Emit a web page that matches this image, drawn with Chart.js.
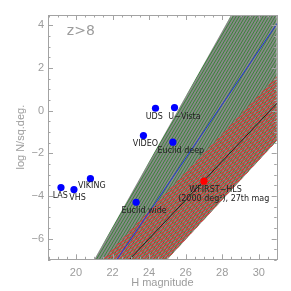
<!DOCTYPE html>
<html>
<head>
<meta charset="utf-8">
<script src="https://cdn.jsdelivr.net/npm/chart.js@4"></script>
<style>
  html, body { margin: 0; padding: 0; background: #fff; }
</style>
</head>
<body>
<canvas id="chart" width="291" height="291"></canvas>
<script>
// survey depths (blue points)
const surveyNames = ['LAS', 'VHS', 'VIKING', 'Euclid wide', 'VIDEO', 'UDS', 'U\u2212Vista', 'Euclid deep'];
const surveyMag = [19.18, 19.89, 20.79, 23.29, 23.69, 24.35, 25.39, 25.30];
const surveyLogN = [-3.61, -3.70, -3.19, -4.30, -1.17, 0.11, 0.14, -1.48];

// WFIRST (red point)
const wfirstLines = ['WFIRST\u2212HLS', '(2000 deg\u00b2), 27th mag'];
const wfirstMag = [27.0];
const wfirstLogN = [-3.31];

// model bands, outline
const greenBandMag = [20.66, 28.83, 31.5, 31.5, 24.43];
const greenBandLogN = [-7.5, 5.0, 5.0, -0.95, -7.5];
const redBandMag = [20.88, 31.5, 31.5, 24.43];
const redBandLogN = [-7.5, 2.07, -0.95, -7.5];
const blueLineMag = [21.83, 31.5];
const blueLineLogN = [-7.5, 4.71];
const blackLineMag = [22.35, 31.5];
const blackLineLogN = [-7.5, 0.80];

const xTickLabels = [20, 22, 24, 26, 28, 30];
const yTickLabels = [-6, -4, -2, 0, 2, 4];

const axisGray = '#a3a3a3';
const textGray = '#9c9c9c';

function pts(xs, ys) {
	return xs.map((x, i) => ({ x: x, y: ys[i] }));
}

const canvas = document.getElementById('chart');
const mainCtx = canvas.getContext('2d');

function hatch(w, h, bg, fg, lw) {
	const tile = document.createElement('canvas');
	tile.width = w;
	tile.height = h;
	const g = tile.getContext('2d');
	if (bg) {
		g.fillStyle = bg;
		g.fillRect(0, 0, w, h);
	}
	g.strokeStyle = fg;
	g.lineWidth = lw;
	g.beginPath();
	for (let k = -1; k <= 1; k++) {
		g.moveTo(k * w, h);
		g.lineTo(k * w + w, 0);
	}
	g.stroke();
	return mainCtx.createPattern(tile, 'repeat');
}

const greenHatch = hatch(3, 5, '#888888', '#378637', 1);
const redHatch = hatch(5, 3, null, '#d63a3a', 1.3);

function fmt(v) {
	return v < 0 ? '\u2212' + Math.abs(v) : String(v);
}

// offsets of the point labels (pixels from the point)
const surveyLabelDx = [-0.7, 3.5, 1.4, 8, 2, -1.3, 10, 8];
const surveyLabelDy = [8.3, 8.6, 7.6, 8.7, 8.5, 8.7, 9, 8.5];

const decorations = {
	id: 'decorations',
	afterDraw(chart) {
		const ctx = chart.ctx;
		const a = chart.chartArea;
		const xs = chart.scales.x;
		const ys = chart.scales.y;
		ctx.save();
		ctx.strokeStyle = axisGray;
		ctx.lineWidth = 1;
		ctx.strokeRect(Math.round(a.left) + 0.5, Math.round(a.top) + 0.5,
			Math.round(a.right - a.left), Math.round(a.bottom - a.top));
		ctx.beginPath();
		// inward ticks, minor every 0.5
		for (let v = 18.5; v <= 31.001; v += 0.5) {
			const px = Math.round(xs.getPixelForValue(v)) + 0.5;
			const len = Math.abs(v % 2) < 1e-6 ? 5 : 2.5;
			ctx.moveTo(px, a.bottom);
			ctx.lineTo(px, a.bottom - len);
			ctx.moveTo(px, a.top);
			ctx.lineTo(px, a.top + len);
		}
		for (let v = -7; v <= 4.501; v += 0.5) {
			const py = Math.round(ys.getPixelForValue(v)) + 0.5;
			const len = Math.abs(v % 2) < 1e-6 ? 5 : 2.5;
			ctx.moveTo(a.left, py);
			ctx.lineTo(a.left + len, py);
			ctx.moveTo(a.right, py);
			ctx.lineTo(a.right - len, py);
		}
		ctx.stroke();

		// z>8 tag
		ctx.fillStyle = textGray;
		ctx.font = '14px "DejaVu Sans"';
		ctx.textAlign = 'left';
		ctx.textBaseline = 'middle';
		ctx.fillText('z>8', xs.getPixelForValue(19.5), ys.getPixelForValue(3.69));

		// point labels
		ctx.fillStyle = '#222';
		ctx.font = '8px "DejaVu Sans"';
		ctx.textAlign = 'center';
		surveyNames.forEach((name, i) => {
			const px = xs.getPixelForValue(surveyMag[i]);
			const py = ys.getPixelForValue(surveyLogN[i]);
			ctx.fillText(name, px + surveyLabelDx[i], py + surveyLabelDy[i]);
		});
		const wx = xs.getPixelForValue(wfirstMag[0]);
		const wy = ys.getPixelForValue(wfirstLogN[0]);
		ctx.fillText(wfirstLines[0], wx + 11.6, wy + 8.4);
		ctx.fillText(wfirstLines[1], wx + 19.8, wy + 17.4);
		ctx.restore();
	}
};

new Chart(canvas, {
	type: 'line',
	data: {
		datasets: [
			{
				data: pts(surveyMag, surveyLogN),
				showLine: false,
				pointRadius: 3.6,
				pointBorderWidth: 0,
				pointBackgroundColor: '#0000ff',
				order: 0
			},
			{
				data: pts(wfirstMag, wfirstLogN),
				showLine: false,
				pointRadius: 3.6,
				pointBorderWidth: 0,
				pointBackgroundColor: '#ff0000',
				order: 0
			},
			{
				data: pts(blueLineMag, blueLineLogN),
				borderColor: '#2233dd',
				borderWidth: 1,
				pointRadius: 0,
				fill: false,
				order: 1
			},
			{
				data: pts(blackLineMag, blackLineLogN),
				borderColor: '#222222',
				borderWidth: 1,
				pointRadius: 0,
				fill: false,
				order: 1
			},
			{
				data: pts(redBandMag, redBandLogN),
				borderWidth: 0,
				borderColor: 'rgba(0,0,0,0)',
				backgroundColor: redHatch,
				pointRadius: 0,
				fill: 'shape',
				order: 2
			},
			{
				data: pts(greenBandMag, greenBandLogN),
				borderWidth: 0,
				borderColor: 'rgba(0,0,0,0)',
				backgroundColor: greenHatch,
				pointRadius: 0,
				fill: 'shape',
				order: 3
			}
		]
	},
	options: {
		responsive: false,
		animation: false,
		events: [],
		layout: {
			padding: { left: 0, right: 14.3, top: 15, bottom: 0 }
		},
		plugins: {
			legend: { display: false },
			tooltip: { enabled: false }
		},
		scales: {
			x: {
				type: 'linear',
				min: 18.47,
				max: 30.98,
				afterFit(scale) { scale.height = 31.7; },
				afterBuildTicks(scale) { scale.ticks = xTickLabels.map(v => ({ value: v })); },
				grid: { display: false, drawTicks: false },
				border: { display: false },
				ticks: {
					autoSkip: false,
					maxRotation: 0,
					padding: 7,
					color: textGray,
					font: { family: 'Liberation Sans', size: 11 },
					callback: v => fmt(v)
				},
				title: {
					display: true,
					text: 'H magnitude',
					color: textGray,
					font: { family: 'Liberation Sans', size: 11 },
					padding: { top: 0, bottom: 1.4 }
				}
			},
			y: {
				type: 'linear',
				min: -6.97,
				max: 4.48,
				afterFit(scale) { scale.width = 48; },
				afterBuildTicks(scale) { scale.ticks = yTickLabels.map(v => ({ value: v })); },
				grid: { display: false, drawTicks: false },
				border: { display: false },
				ticks: {
					autoSkip: false,
					padding: 4,
					color: textGray,
					font: { family: 'Liberation Sans', size: 11 },
					callback: v => fmt(v)
				},
				title: {
					display: true,
					text: 'log N/sq.deg.',
					color: textGray,
					font: { family: 'Liberation Sans', size: 11 },
					padding: { top: 14.4, bottom: 0 }
				}
			}
		}
	},
	plugins: [decorations]
});
</script>
</body>
</html>
